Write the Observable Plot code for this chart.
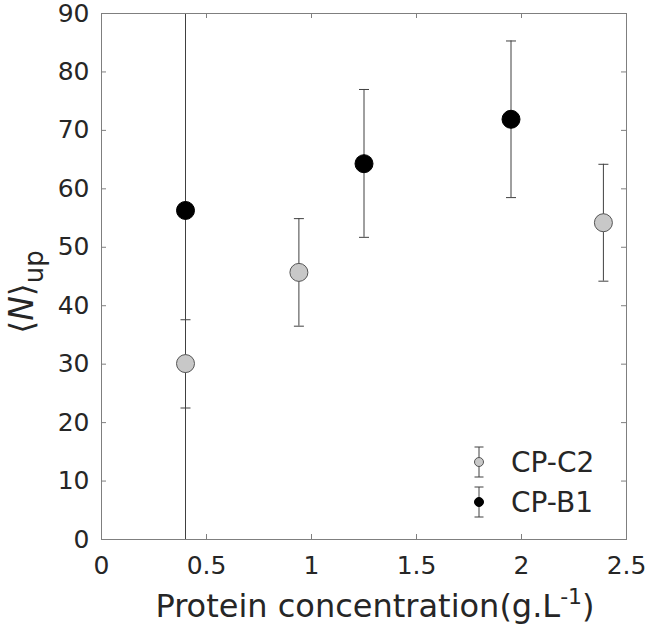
<!DOCTYPE html>
<html>
<head>
<meta charset="utf-8">
<script src="https://cdn.jsdelivr.net/npm/d3@7"></script>
<script src="https://cdn.jsdelivr.net/npm/@observablehq/plot@0.6"></script>
<style>
  html, body { margin: 0; padding: 0; background: #fff; }
  svg { font-family: "DejaVu Sans", sans-serif; overflow: visible; }
</style>
</head>
<body>
<div id="chart"></div>
<script>
// Data
const seriesNames = ["CP-C2", "CP-B1"];
const c2Conc = [0.40, 0.94, 2.39];
const c2Mean = [30.1, 45.7, 54.2];
const c2Low  = [22.5, 36.5, 44.2];
const c2High = [37.6, 54.9, 64.2];
const b1Conc = [0.40, 1.25, 1.95];
const b1Mean = [56.3, 64.3, 71.9];
const b1Low  = [-4.0, 51.7, 58.5];
const b1High = [116.0, 77.0, 85.3];
const xTicks = [0, 0.5, 1, 1.5, 2, 2.5];
const yTicks = [0, 10, 20, 30, 40, 50, 60, 70, 80, 90];

const colors = {"CP-C2": "#c8c8c8", "CP-B1": "#000000"};
const strokes = {"CP-C2": "#555555", "CP-B1": "#000000"};

const rows = [
  ...c2Conc.map((x, i) => ({series: "CP-C2", x, y: c2Mean[i], lo: c2Low[i], hi: c2High[i]})),
  ...b1Conc.map((x, i) => ({series: "CP-B1", x, y: b1Mean[i], lo: b1Low[i], hi: b1High[i]}))
];

const W = 647, H = 627;
const mL = 101, mR = 21, mT = 13, mB = 88;
const fw = W - mL - mR, fh = H - mT - mB;
const tk = 5;

const capSymbol = {
  draw(context, size) {
    const w = Math.sqrt(size / Math.PI);
    context.moveTo(-w, 0);
    context.lineTo(w, 0);
  }
};

const chart = Plot.plot({
  width: W, height: H,
  marginLeft: mL, marginRight: mR, marginTop: mT, marginBottom: mB,
  style: {fontFamily: "DejaVu Sans, sans-serif", background: "#fff", overflow: "visible"},
  x: {domain: [0, 2.5]},
  y: {domain: [0, 90]},
  marks: [
    Plot.ruleX(rows, {x: "x", y1: "lo", y2: "hi", stroke: "#404040", strokeWidth: 1, clip: true}),
    Plot.dot(rows, {x: "x", y: "lo", symbol: capSymbol, r: 5, stroke: "#404040", strokeWidth: 1, clip: true}),
    Plot.dot(rows, {x: "x", y: "hi", symbol: capSymbol, r: 5, stroke: "#404040", strokeWidth: 1, clip: true}),
    Plot.dot(rows, {x: "x", y: "y", r: 9, fill: d => colors[d.series], stroke: d => strokes[d.series], strokeWidth: 1}),
    Plot.frame({stroke: "#7f7f7f", strokeWidth: 1}),
    Plot.tickX(xTicks, {x: d => d, insetTop: fh - tk, stroke: "#7f7f7f"}),
    Plot.tickX(xTicks, {x: d => d, insetBottom: fh - tk, stroke: "#7f7f7f"}),
    Plot.tickY(yTicks, {y: d => d, insetRight: fw - tk, stroke: "#7f7f7f"}),
    Plot.tickY(yTicks, {y: d => d, insetLeft: fw - tk, stroke: "#7f7f7f"}),
    Plot.axisX(xTicks, {tickSize: 0, tickPadding: 17, fontSize: 25, fill: "#262626", label: null, tickFormat: d => String(d)}),
    Plot.axisY(yTicks, {tickSize: 0, tickPadding: 12, fontSize: 25, fill: "#262626", label: null, tickFormat: d => String(d)})
  ]
});

document.getElementById("chart").appendChild(chart);

const svg = d3.select(chart);

// X axis label with superscript
const xl = svg.append("text")
  .attr("x", 375).attr("y", 617)
  .attr("text-anchor", "middle")
  .attr("font-size", 32)
  .attr("fill", "#262626");
xl.append("tspan").text("Protein concentration(g.L");
xl.append("tspan").attr("font-size", 22).attr("dy", -13).text("-1");
xl.append("tspan").attr("dy", 13).text(")");

// Y axis label ⟨N⟩_up
const yl = svg.append("text")
  .attr("transform", `translate(33, 292) rotate(-90)`)
  .attr("text-anchor", "middle")
  .attr("font-size", 33)
  .attr("fill", "#262626");
yl.append("tspan").text("⟨");
yl.append("tspan").attr("font-style", "italic").text("N");
yl.append("tspan").text("⟩");
yl.append("tspan").attr("font-size", 26).attr("dy", 10).text("up");

// Legend (inside plot, bottom-right)
const lg = svg.append("g").attr("font-size", 28).attr("fill", "#262626").attr("text-anchor", "start");
seriesNames.forEach((name, i) => {
  const cx = 479, cy = 462 + i * 40;
  lg.append("line").attr("x1", cx).attr("x2", cx).attr("y1", cy - 15).attr("y2", cy + 15).attr("stroke", "#404040");
  lg.append("line").attr("x1", cx - 4.5).attr("x2", cx + 4.5).attr("y1", cy - 15).attr("y2", cy - 15).attr("stroke", "#404040");
  lg.append("line").attr("x1", cx - 4.5).attr("x2", cx + 4.5).attr("y1", cy + 15).attr("y2", cy + 15).attr("stroke", "#404040");
  lg.append("circle").attr("cx", cx).attr("cy", cy).attr("r", 4.5).attr("fill", colors[name]).attr("stroke", strokes[name]);
  lg.append("text").attr("x", 511).attr("y", cy + 10).attr("text-anchor", "start").text(name);
});
</script>
</body>
</html>
